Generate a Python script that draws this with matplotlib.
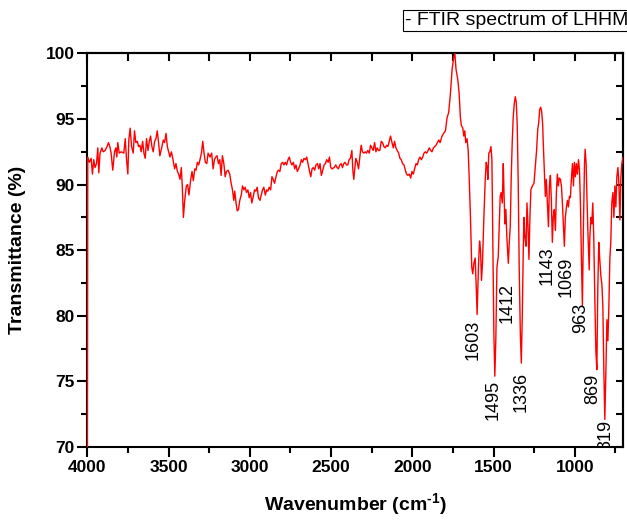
import matplotlib
matplotlib.use("Agg")
import matplotlib.pyplot as plt
from matplotlib.ticker import MultipleLocator

plt.rcParams['font.family'] = ['Liberation Sans', 'DejaVu Sans']
plt.rcParams['mathtext.fontset'] = 'custom'
plt.rcParams['mathtext.rm'] = 'Liberation Sans:bold'
plt.rcParams['mathtext.bf'] = 'Liberation Sans:bold'

# FTIR spectrum (wavenumber cm-1, transmittance %)
wavenumber = [
    4000, 3998, 3988, 3977, 3969, 3961, 3953, 3944, 3936, 3930, 3922, 3911, 3903,
    3891, 3879, 3870, 3862, 3854, 3844, 3833, 3825, 3819, 3813, 3804, 3792, 3776,
    3767, 3759, 3751, 3745, 3737, 3728, 3718, 3710, 3702, 3693, 3685, 3677, 3669,
    3660, 3652, 3644, 3636, 3627, 3619, 3611, 3603, 3595, 3586, 3578, 3570, 3562,
    3554, 3541, 3533, 3525, 3516, 3508, 3500, 3492, 3483, 3473, 3463, 3455, 3446,
    3438, 3430, 3422, 3416, 3409, 3401, 3391, 3383, 3375, 3364, 3356, 3348, 3339,
    3331, 3323, 3315, 3307, 3298, 3290, 3282, 3274, 3265, 3257, 3245,
    3235, 3226, 3218, 3210, 3202, 3193, 3185, 3177, 3169, 3160, 3152, 3144, 3134,
    3124, 3115, 3107, 3099, 3093, 3086, 3078, 3070, 3062, 3053, 3045, 3037, 3029,
    3021, 3012, 3004, 2996, 2988, 2979, 2971, 2963, 2955, 2947, 2938, 2930, 2922,
    2914, 2905, 2897, 2889, 2881, 2872, 2864, 2856, 2848, 2839, 2831, 2823, 2815,
    2807, 2798, 2790, 2782, 2774, 2765, 2757, 2749, 2741, 2732, 2724, 2716, 2708,
    2700, 2691, 2683, 2675, 2667, 2658, 2650, 2642, 2634, 2625, 2617, 2609, 2601,
    2593, 2584, 2576, 2568, 2560, 2551, 2543, 2535, 2527, 2518, 2510, 2502, 2494,
    2481,
    2471, 2463, 2455, 2446, 2438, 2430, 2422, 2414, 2405, 2397, 2389, 2381, 2372,
    2366, 2360, 2354, 2348, 2339, 2331, 2323, 2315, 2307, 2298, 2290, 2282, 2274,
    2265, 2257, 2249, 2241, 2232, 2224, 2216, 2208, 2200, 2191, 2183, 2175, 2167,
    2158, 2150, 2142, 2134, 2125, 2117, 2109, 2101, 2093, 2084, 2076, 2068, 2060,
    2051, 2043, 2035, 2027, 2018, 2010, 2002, 1994, 1986, 1977, 1969, 1961, 1953,
    1944, 1936, 1928, 1920, 1911, 1903, 1895, 1887, 1879, 1870, 1862, 1854, 1846,
    1837, 1829, 1817, 1807, 1796, 1786, 1776, 1765, 1755, 1745, 1738, 1731, 1720,
    1712, 1704, 1698, 1689, 1683, 1677, 1671, 1663, 1656, 1650, 1642, 1634, 1628,
    1621, 1613, 1607, 1601, 1593, 1586, 1580, 1574, 1568, 1560, 1551, 1545, 1539,
    1535, 1529, 1523, 1516, 1510, 1504, 1498, 1492, 1486, 1479, 1471, 1465, 1459,
    1453, 1446, 1440, 1436, 1430, 1424, 1418, 1409, 1403, 1397, 1391, 1385, 1379,
    1372, 1366, 1360, 1354, 1348, 1342, 1335, 1329, 1323, 1317, 1313, 1307, 1300,
    1294, 1288, 1282, 1276, 1270, 1261, 1251, 1243, 1235, 1228, 1222, 1216, 1210,
    1204, 1198, 1193, 1187, 1181, 1175, 1169, 1162, 1156, 1150, 1144, 1138, 1132,
    1126, 1119, 1113, 1107, 1101, 1095, 1088, 1082, 1076, 1070, 1064, 1058, 1051,
    1045, 1039, 1033, 1027, 1021, 1014, 1008, 1002, 996, 990, 984, 977, 971, 965,
    959, 953, 946, 940, 936, 930, 924, 918, 911, 907, 901, 895, 889, 883, 876, 870,
    864, 858, 852, 846, 839, 833, 827, 821, 815, 809, 802, 796, 790, 784, 778, 772,
    765, 759, 753, 747, 741, 734, 728, 722, 716, 710, 703, 697,
]
transmittance = [
    70.0, 92.1, 91.7, 92.0, 90.8, 91.9, 91.3, 91.6, 92.8, 90.9, 92.4, 92.8, 92.5,
    92.6, 92.9, 93.2, 92.9, 92.4, 91.1, 92.5, 92.8, 92.1, 93.2, 92.4, 92.5, 92.4,
    93.5, 91.9, 90.8, 93.4, 94.3, 92.9, 92.4, 94.1, 93.2, 93.3, 92.9, 93.0, 92.5,
    93.3, 92.4, 92.0, 93.5, 92.6, 93.3, 93.7, 92.9, 92.5, 93.3, 93.5, 94.1, 93.2,
    92.2, 92.9, 93.4, 93.2, 93.9, 92.9, 92.5, 92.1, 92.5, 91.9, 91.2, 91.6, 91.0,
    90.8, 90.4, 91.3, 89.9, 87.5, 88.8, 89.9, 90.0, 89.2, 90.4, 91.0, 90.3, 91.2,
    91.1, 91.7, 91.5, 91.9, 92.4, 93.3, 92.4, 91.7, 91.6, 92.4, 92.1,
    92.4, 91.2, 91.9, 92.1, 92.2, 91.6, 91.9, 90.7, 92.2, 91.6, 90.6, 91.0, 91.1,
    90.8, 90.1, 89.6, 88.8, 89.5, 88.7, 88.0, 88.1, 88.8, 89.2, 89.9, 89.6, 89.8,
    89.4, 89.6, 89.0, 89.4, 88.6, 89.1, 89.6, 89.5, 89.8, 89.0, 88.8, 89.2, 89.6,
    89.8, 89.2, 89.6, 89.5, 89.8, 89.6, 90.6, 90.4, 90.1, 90.6, 91.0, 91.1, 91.0,
    91.6, 91.7, 91.5, 91.7, 91.5, 91.9, 92.1, 91.7, 91.5, 91.7, 91.2, 91.5, 91.0,
    91.2, 91.5, 91.9, 91.7, 92.0, 91.9, 92.1, 91.6, 91.1, 90.6, 91.2, 91.3, 91.1,
    91.5, 91.6, 91.2, 91.6, 90.7, 91.1, 91.5, 91.6, 91.9, 91.7, 92.1, 91.3, 91.2,
    91.3,
    91.5, 91.3, 91.2, 91.5, 91.6, 91.3, 91.6, 91.7, 91.5, 91.5, 91.9, 92.0, 92.6,
    91.1, 90.4, 91.2, 92.0, 91.7, 91.2, 92.1, 93.0, 92.5, 92.4, 92.5, 92.4, 92.6,
    92.4, 93.0, 92.8, 92.6, 93.2, 92.5, 92.8, 92.6, 92.6, 93.3, 93.2, 92.9, 92.8,
    93.0, 92.9, 93.3, 93.7, 93.2, 92.8, 93.3, 92.8, 92.6, 92.4, 92.0, 91.9, 91.6,
    91.5, 91.1, 90.8, 90.7, 90.8, 90.5, 91.0, 90.8, 91.2, 91.6, 91.5, 91.9, 92.1,
    91.9, 92.1, 92.4, 92.5, 92.4, 92.6, 92.8, 92.6, 92.5, 92.8, 92.9, 93.0, 93.2,
    93.4, 93.2, 93.7, 93.9, 94.1, 95.1, 95.5, 97.0, 98.8, 99.7, 100.0, 98.8, 98.0,
    97.0, 95.1, 94.5, 94.3, 93.7, 94.1, 93.2, 93.5, 92.6, 90.6, 87.5, 83.7, 83.2,
    84.0, 84.4, 82.4, 80.1, 83.7, 85.7, 85.0, 82.7, 84.0, 87.3, 90.4, 91.7, 91.3,
    90.4, 92.4, 92.5, 92.9, 91.9, 85.0, 78.7, 75.4, 78.1, 83.7, 84.5, 86.8, 89.1,
    89.4, 88.6, 91.6, 89.6, 87.0, 88.1, 86.0, 84.0, 85.6, 86.8, 90.6, 93.2, 95.1,
    96.2, 96.7, 96.3, 94.5, 90.1, 83.7, 78.6, 76.4, 80.0, 85.0, 87.5, 86.0, 85.3,
    88.6, 86.8, 84.3, 87.5, 89.6, 89.9, 90.1, 91.3, 92.6, 94.2, 94.7, 95.7, 95.9,
    95.6, 94.7, 92.9, 91.1, 89.1, 90.4, 88.8, 86.8, 89.9, 90.7, 88.8, 85.6, 87.6,
    88.1, 86.5, 89.4, 90.8, 89.9, 90.5, 90.4, 89.9, 88.6, 87.0, 85.3, 87.5, 88.3,
    88.8, 88.3, 89.1, 89.0, 90.4, 91.6, 89.9, 91.7, 90.6, 91.6, 90.8, 91.9, 91.1, 88.6,
    84.3, 80.8, 87.3, 91.6, 92.7, 91.6, 88.6, 86.0, 83.5, 86.0, 87.5, 87.0, 88.6, 86.0,
    81.0, 77.3,
    75.9, 82.2, 85.6, 84.3, 83.0, 82.4, 80.7, 75.9, 72.1, 75.4, 79.7, 78.1, 80.7, 84.3,
    85.7, 88.6,
    89.4, 87.5, 89.9, 88.3, 90.6, 91.3, 89.9, 87.3, 90.6, 91.6, 92.1, 91.3,
]

# peak labels: text, x (cm-1), y of the upper end of the text (%)
peak_labels = ['1603', '1495', '1412', '1336', '1143', '1069', '963', '869', '819']
label_x = [1624, 1501, 1414, 1332, 1168, 1053, 962, 891, 808]
label_y = [79.7, 75.1, 82.5, 75.7, 85.3, 84.5, 81.0, 75.6, 72.1]

fig = plt.figure(figsize=(6.27, 5.23), dpi=100)
ax = fig.add_axes([0.1394, 0.1453, 0.855, 0.7526])

ax.plot(wavenumber, transmittance, color='red', lw=1.0, zorder=3)
ax.set_xlim(4000, 700)
ax.set_ylim(70, 100)

for txt, x, y in zip(peak_labels, label_x, label_y):
    ax.text(x, y, txt, rotation=90, ha='center', va='top', fontsize=13,
            clip_on=True)

ax.xaxis.set_major_locator(MultipleLocator(500))
ax.xaxis.set_minor_locator(MultipleLocator(250))
ax.yaxis.set_major_locator(MultipleLocator(5))
ax.yaxis.set_minor_locator(MultipleLocator(2.5))
ax.tick_params(which='both', direction='out', width=1.5, top=False, right=False)
ax.tick_params(which='major', length=7, pad=2, labelsize=12.5)
ax.tick_params(which='minor', length=4)
for lab in ax.get_xticklabels() + ax.get_yticklabels():
    lab.set_fontweight('bold')

# inward ticks on the top and right spines
sec_x = ax.secondary_xaxis('top')
sec_x.xaxis.set_major_locator(MultipleLocator(250))
sec_x.tick_params(direction='in', length=5.5, width=1.5, labeltop=False)
sec_y = ax.secondary_yaxis('right')
sec_y.yaxis.set_major_locator(MultipleLocator(2.5))
sec_y.tick_params(direction='in', length=5, width=1.5, labelright=False)
for sp in list(ax.spines.values()) + [sec_x.spines['top'], sec_y.spines['right']]:
    sp.set_linewidth(1.5)

ax.set_xlabel(r'Wavenumber (cm$^{\text{-1}}$)', fontsize=14, fontweight='bold',
              labelpad=12)
ax.set_ylabel('Transmittance (%)', fontsize=14, fontweight='bold', labelpad=14)

fig.text(0.646, 0.961, '- FTIR spectrum of LHHM', fontsize=14, ha='left',
         va='center', bbox=dict(boxstyle='square,pad=0.12', fc='white',
                                ec='black', lw=0.8))

fig.savefig('out.png', dpi=100)
